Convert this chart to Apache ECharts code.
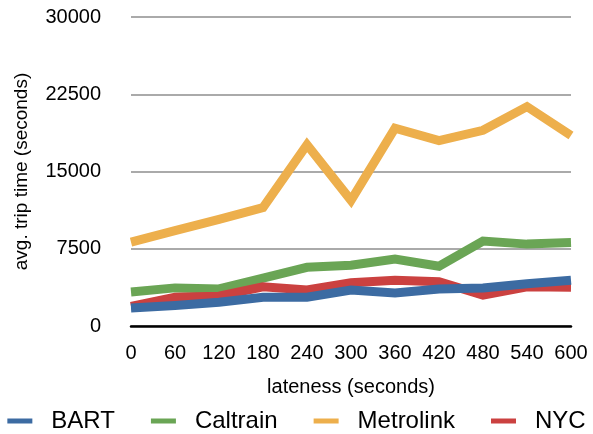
<!DOCTYPE html>
<html><head><meta charset="utf-8">
<script src="https://cdn.jsdelivr.net/npm/echarts@6/dist/echarts.min.js"></script>
<style>html,body{margin:0;padding:0;background:#fff}#c{width:593px;height:434px}</style>
</head><body><div id="c"></div>
<script>
const categories = ['0','60','120','180','240','300','360','420','480','540','600'];
const bart      = [1750, 2000, 2300, 2800, 2800, 3500, 3200, 3600, 3700, 4100, 4450];
const caltrain  = [3300, 3700, 3600, 4650, 5700, 5900, 6500, 5800, 8250, 7950, 8100];
const metrolink = [8150, 9250, 10350, 11500, 17600, 12200, 19200, 18000, 19000, 21300, 18500];
const nyc       = [1900, 2800, 2900, 3800, 3500, 4200, 4450, 4300, 3000, 3800, 3750];
const yTicks = [0, 7500, 15000, 22500, 30000];

const font = 'Liberation Sans, Helvetica, Arial, sans-serif';
const colors = {BART:'#3C6BA2', Caltrain:'#6AA555', Metrolink:'#EDAF4C', NYC:'#CB4140'};
function mk(name, data, z){
  return {name, type:'line', data, symbol:'none', z,
    lineStyle:{width:9, color:colors[name], join:'miter'}, itemStyle:{color:colors[name]}};
}
const chart = echarts.init(document.getElementById('c'), null, {renderer:'canvas'});
chart.setOption({
  animation:false,
  textStyle:{fontFamily:font},
  grid:{left:131, right:22, top:17, bottom:108, containLabel:false},
  xAxis:{type:'category', data:categories, boundaryGap:false,
    name:'lateness (seconds)', nameLocation:'middle', nameGap:51,
    nameTextStyle:{fontSize:20, color:'#000', fontFamily:font},
    axisLine:{lineStyle:{color:'#000', width:2.5}}, axisTick:{show:false},
    axisLabel:{fontSize:20, color:'#000', margin:17, fontFamily:font}},
  yAxis:{type:'value', min:yTicks[0], max:yTicks[yTicks.length-1], interval:7500,
    name:'avg. trip time (seconds)', nameLocation:'middle', nameGap:100, nameRotate:90,
    nameTextStyle:{fontSize:19, color:'#000', fontFamily:font},
    axisLine:{show:false}, axisTick:{show:false},
    axisLabel:{fontSize:20, color:'#000', margin:30, fontFamily:font, formatter:v=>String(v)},
    splitLine:{lineStyle:{color:'#AAAAAA', width:2}}},
  legend:{top:404, left:'center', icon:'rect', itemWidth:25, itemHeight:5, itemGap:36,
    textStyle:{fontSize:24, color:'#000', fontFamily:font, padding:[0,0,0,14]},
    data:['BART','Caltrain','Metrolink','NYC']},
  series:[mk('BART',bart,5), mk('Caltrain',caltrain,3), mk('Metrolink',metrolink,2), mk('NYC',nyc,4)]
});
</script></body></html>
